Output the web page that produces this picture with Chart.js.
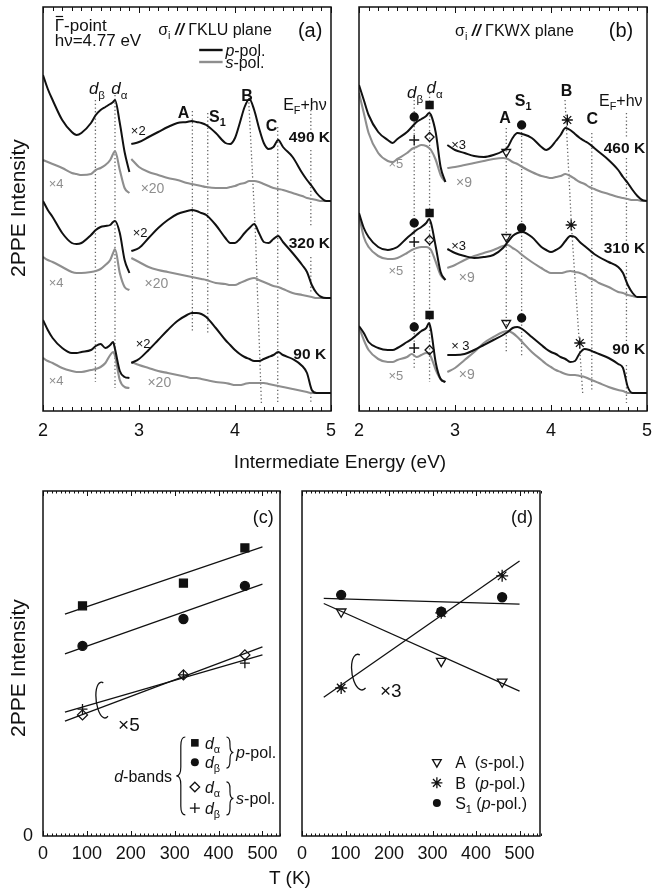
<!DOCTYPE html>
<html><head><meta charset="utf-8">
<script src="https://cdn.jsdelivr.net/npm/chart.js@4.4.1/dist/chart.umd.min.js"></script>
<style>
html,body{margin:0;padding:0;background:#fff;}
body{width:667px;height:892px;position:relative;overflow:hidden;font-family:'Liberation Sans',Arial,Helvetica,sans-serif;color:#111;}
canvas{position:absolute;}
.t{position:absolute;white-space:nowrap;transform:translate(-50%,-50%);}
.t.r{transform:translate(-50%,-50%) rotate(-90deg);}
</style></head><body>
<canvas id="ca" width="345" height="445" style="left:0;top:0;"></canvas>
<canvas id="cb" width="322" height="445" style="left:345px;top:0;"></canvas>
<canvas id="cc" width="290" height="406" style="left:0;top:470px;"></canvas>
<canvas id="cd" width="260" height="406" style="left:290px;top:470px;"></canvas>
<div class="t r" style="left:18px;top:208px;font-size:21px;">2PPE Intensity</div>
<div class="t" style="left:340px;top:462px;font-size:19px;">Intermediate Energy (eV)</div>
<div class="t r" style="left:18px;top:668px;font-size:21px;">2PPE Intensity</div>
<div class="t" style="left:290px;top:878px;font-size:19px;">T (K)</div>
<script>
// ---------- DATA ----------
// energy grids (eV)
const E1 = [2.0,2.05,2.1,2.2,2.3,2.35,2.4,2.5,2.55,2.6,2.65,2.7,2.73,2.75,2.8,2.85,2.9];
const E2 = [2.92,3.0,3.1,3.2,3.3,3.4,3.5,3.55,3.6,3.65,3.7,3.8,3.9,3.95,4.0,4.05,4.1,4.15,4.2,4.25,4.3,4.35,4.4,4.45,4.5,4.6,4.7,4.75,4.8,4.85,4.9,4.95,5.0];
// panel (a) GKLU plane : p = p-pol (black), s = s-pol (gray); 1 = d-band region, 2 = scaled region
const a490p1 = [336,322,311,291,279,276,278,288,296,301,304,307,309,311,288,259,239];
const a490s1 = [251,249,247,243,238,237,236,237,241,243,246,251,257,260,241,223,218];
const a320p1 = [210,201,194,178,168,167,168,176,181,184,185,186,189,190,178,151,138];
const a320s1 = [154,151,149,144,139,138,138,139,140,142,146,151,158,162,138,124,121];
const a90p1  = [91,81,73,63,58,58,59,61,65,67,63,66,69,62,40,34,33];
const a90s1  = [53,50,48,43,40,39,39,41,42,44,48,56,59,55,31,24,23];
const a490p2 = [267,269,274,279,284,288,289,290,289,288,286,278,268,267,273,288,304,312,301,283,268,262,264,271,264,254,238,231,225,218,213,210,210];
const a490s2 = [252,244,239,236,233,231,228,227,226,225,224,223,223,224,225,227,228,230,230,229,227,225,223,222,221,218,215,213,212,211,210,210,210];
const a320p2 = [160,163,173,183,191,197,200,201,200,198,196,186,173,168,168,172,178,183,187,178,169,168,172,175,169,158,146,139,126,118,114,113,113];
const a320s2 = [153,149,144,141,139,137,135,134,133,132,131,128,127,126,126,128,130,132,133,131,129,127,125,124,122,118,116,115,114,113,113,113,113];
const a90p2  = [48,52,61,71,81,90,96,98,98,97,94,83,71,66,61,57,54,52,50,50,52,54,56,59,56,52,45,38,21,18,18,18,18];
const a90s2  = [49,46,43,40,38,36,34,33,33,32,31,29,28,27,26,26,27,28,28,28,28,27,26,25,24,22,20,19,18,18,18,18,18];
// panel (b) GKWX plane
const b460p1 = [326,311,296,279,271,268,272,279,284,289,292,295,298,296,278,244,229];
const b460s1 = [318,298,278,258,250,249,252,258,262,264,266,265,263,261,251,236,229];
const b310p1 = [198,183,174,164,161,162,164,173,177,181,184,188,192,188,164,139,131];
const b310s1 = [196,174,164,155,152,152,153,158,161,163,164,164,163,161,149,136,131];
const b90p1  = [85,78,69,63,61,61,63,69,72,76,80,83,88,81,48,32,29];
const b90s1  = [84,71,61,52,49,49,51,54,57,54,56,58,57,54,41,32,29];
const b460p2 = [266,261,258,255,254,256,260,264,273,278,277,273,264,261,264,270,276,283,281,277,273,270,267,263,259,251,241,234,228,221,215,211,210];
const b460s2 = [243,244,246,248,250,252,253,252,249,247,244,239,235,234,233,234,235,237,235,232,229,227,224,222,220,217,214,213,212,211,211,210,210];
const b310p2 = [162,158,155,153,154,156,163,169,175,178,179,174,164,161,159,161,164,170,175,174,169,165,161,157,154,149,144,138,126,118,114,114,114];
const b310s2 = [143,146,151,155,158,161,165,166,163,160,156,149,143,140,138,138,138,139,140,139,138,136,133,131,128,124,119,118,116,115,114,114,114];
const b90p2  = [56,56,57,61,66,71,76,79,83,84,82,74,66,62,59,57,54,52,49,50,58,62,61,59,57,53,47,43,24,18,18,18,18];
const b90s2  = [39,43,51,59,68,74,79,80,78,74,69,59,51,47,44,41,39,37,36,36,35,34,32,30,28,24,21,20,18,18,18,18,18];
// panel (b) peak markers (460 K, 310 K, 90 K)
const bSqE = [2.735,2.735,2.735], bSqV = [306,198,96];   // d_alpha p-pol
const bDbE = [2.575,2.575,2.575], bDbV = [294,188,84];   // d_beta p-pol
const bPlE = [2.575,2.575,2.575], bPlV = [271,169,63];   // d_beta s-pol
const bDiE = [2.735,2.735,2.735], bDiV = [274,171,61];   // d_alpha s-pol
const bTrE = [3.534,3.534,3.534], bTrV = [259,174,88];   // A
const bS1E = [3.694,3.694,3.694], bS1V = [286,183,93];   // S1
const bStE = [4.17,4.21,4.30],    bStV = [291,186,68];   // B
// dotted guide lines
const aGuideE = [2.546,2.75,3.556,3.716,4.445], aGuideTop = [311,316,300,298,284], aGuideBot = [29,23,78,76,8];
const aGuideBE = [4.14,4.21,4.275], aGuideBV = [316,184,8];
const aEF = 4.79, aEFv = [301,274,null,261,184,null,154,118,null,18,8];
const bGuideE = [2.575,2.735,3.534,3.694,4.425], bGuideTop = [311,318,283,279,278], bGuideBot = [41,29,58,54,21];
const bGuideBE = [4.146,4.214,4.33], bGuideBV = [311,184,18];
const bEF = 4.786, bEFv = [298,273,null,253,168,null,149,66,null,46,8];
// panels (c),(d): temperatures and intensities
const temps = [90,320,460];
const cDaP = [66.7,73.3,83.5], cDbP = [55.1,62.9,72.5], cDaS = [35.1,46.7,52.5], cDbS = [36.8,46.7,50.1];
const fitT = [50,500];
const cFitDaP = [64.3,83.8], cFitDbP = [52.8,73.0], cFitDaS = [33.3,54.8], cFitDbS = [35.9,52.5];
const dA = [65.0,50.7,44.7], dB = [42.9,64.7,75.4], dS1 = [69.9,65.0,69.2];
const dFitA = [67.4,42.0], dFitB = [40.2,79.7], dFitS1 = [68.9,67.2];

// ---------- HELPERS ----------
const FAM = "'Liberation Sans', Arial, Helvetica, sans-serif";
const K = '#111', G = '#8e8e8e', DOT = '#666';
const pts = (X,Y) => Y.map((v,i)=>({x: Array.isArray(X)?X[i]:X, y: v}));
function curve(X,Y,c){return {data:pts(X,Y),borderColor:c,borderWidth:c===K?2.0:2.1,pointRadius:0,showLine:true,cubicInterpolationMode:'monotone',fill:false};}
function guide(X,Y){return {data:pts(X,Y),borderColor:DOT,borderWidth:1.3,borderDash:[1.3,2.4],pointRadius:0,showLine:true,tension:0,spanGaps:false};}
function marks(X,Y,st,r,fill){return {data:pts(X,Y),showLine:false,pointStyle:st,pointRadius:r,pointBorderWidth:1.3,pointBackgroundColor:fill?K:'rgba(255,255,255,0)',pointBorderColor:K,pointRotation:st==='triangle'?180:0};}
function fitLine(X,Y){return {data:pts(X,Y),borderColor:K,borderWidth:1.3,pointRadius:0,showLine:true,tension:0};}

function fontFor(f,size){return (f.includes('i')?'italic ':'')+(f.includes('b')?'bold ':'')+(f.includes('s')?size*0.68:size)+'px '+FAM;}
function drawRich(ctx,x,y,parts,size,align,color){
  if(typeof parts==='string') parts=[[parts,'']];
  let w=0;
  for(const [t,f=''] of parts){ctx.font=fontFor(f,size);w+=ctx.measureText(t).width;}
  let cx = align==='right'?x-w:align==='center'?x-w/2:x;
  const base=y+size*0.36;
  ctx.fillStyle=color;ctx.textBaseline='alphabetic';ctx.textAlign='left';
  for(const [t,f=''] of parts){
    ctx.font=fontFor(f,size);
    const tw=ctx.measureText(t).width;
    ctx.fillText(t,cx,f.includes('s')?base+size*0.28:base);
    if(f.includes('o')){ctx.save();ctx.strokeStyle=color;ctx.lineWidth=1.2;ctx.beginPath();ctx.moveTo(cx+1,base-size*0.86);ctx.lineTo(cx+tw-1,base-size*0.86);ctx.stroke();ctx.restore();}
    cx+=tw;
  }
}
function brace(ctx,x,y1,y2,d,w){
  const ym=(y1+y2)/2, xo=x-d*w/2, xt=x+d*w/2, q=Math.min(w,(y2-y1)/4);
  ctx.beginPath();
  ctx.moveTo(xo,y1);ctx.quadraticCurveTo(x,y1,x,y1+q);ctx.lineTo(x,ym-q);ctx.quadraticCurveTo(x,ym,xt,ym);
  ctx.quadraticCurveTo(x,ym,x,ym+q);ctx.lineTo(x,y2-q);ctx.quadraticCurveTo(x,y2,xo,y2);ctx.stroke();
}
function mark(ctx,st,x,y,r){
  ctx.save();ctx.fillStyle=K;ctx.strokeStyle=K;ctx.lineWidth=1.3;ctx.beginPath();
  if(st==='sq'){ctx.fillRect(x-r,y-r,2*r,2*r);}
  else if(st==='ci'){ctx.arc(x,y,r,0,2*Math.PI);ctx.fill();}
  else if(st==='di'){ctx.moveTo(x,y-r);ctx.lineTo(x+r,y);ctx.lineTo(x,y+r);ctx.lineTo(x-r,y);ctx.closePath();ctx.stroke();}
  else if(st==='pl'){ctx.moveTo(x-r,y);ctx.lineTo(x+r,y);ctx.moveTo(x,y-r);ctx.lineTo(x,y+r);ctx.stroke();}
  else if(st==='tr'){ctx.moveTo(x-r*0.87,y-r*0.5);ctx.lineTo(x+r*0.87,y-r*0.5);ctx.lineTo(x,y+r);ctx.closePath();ctx.stroke();}
  else if(st==='st'){for(let k=0;k<4;k++){const an=k*Math.PI/4;ctx.moveTo(x-r*Math.cos(an),y-r*Math.sin(an));ctx.lineTo(x+r*Math.cos(an),y+r*Math.sin(an));}ctx.stroke();}
  ctx.restore();
}
const t=(x,y,p,s,a,c)=>({k:'t',x,y,p,s,a:a||'left',c:c||K});

// ---------- ANNOTATIONS ----------
const notesA = [
  t(2.122,386,[['Γ','o'],['-point','']],17), t(2.122,371,'hν=4.77 eV',17),
  t(3.20,382,[['σ',''],['i','s'],[' ',''],['//','bi'],[' ΓKLU plane','']],16),
  t(4.91,381,'(a)',20,'right'),
  {k:'ln',x1:3.627,x2:3.871,y:361,c:K,w:2.4},{k:'ln',x1:3.627,x2:3.871,y:349,c:G,w:2.4},
  t(3.90,361,[['p','i'],['-pol.','']],16), t(3.90,349,[['s','i'],['-pol.','']],16),
  t(2.478,323,[['d','i'],['β','s']],17), t(2.712,323,[['d','i'],['α','s']],17),
  t(3.464,299,[['A','b']],16,'center'), t(3.729,295,[['S','b'],['1','bs']],16),
  t(4.125,316,[['B','b']],16,'center'), t(4.38,286,[['C','b']],16,'center'),
  t(4.502,307,[['E',''],['F','s'],['+hν','']],16),
  t(4.99,275,[['490 K','b']],15.5,'right'), t(4.99,169,[['320 K','b']],15.5,'right'), t(4.949,58,[['90 K','b']],15.5,'right'),
  t(2.915,281,'×2',13), t(2.935,179,'×2',13), t(2.966,68,'×2',13),
  t(2.06,228,'×4',13,'left',G), t(2.06,129,'×4',13,'left',G), t(2.06,31,'×4',13,'left',G),
  t(3.017,223,'×20',14,'left',G), t(3.058,128,'×20',14,'left',G), t(3.088,29,'×20',14,'left',G)
];
const notesB = [
  t(3.00,381,[['σ',''],['i','s'],[' ',''],['//','bi'],[' ΓKWX plane','']],16),
  t(4.857,381,'(b)',20,'right'),
  t(2.5,319,[['d','i'],['β','s']],17), t(2.704,324,[['d','i'],['α','s']],17),
  t(3.52,294,[['A','b']],16,'center'), t(3.622,311,[['S','b'],['1','bs']],16),
  t(4.163,321,[['B','b']],16,'center'), t(4.43,293,[['C','b']],16,'center'),
  t(4.5,311,[['E',''],['F','s'],['+hν','']],16),
  t(4.98,264,[['460 K','b']],15.5,'right'), t(4.98,164,[['310 K','b']],15.5,'right'), t(4.98,63,[['90 K','b']],15.5,'right'),
  t(2.96,267,'×3',13), t(2.96,166,'×3',13), t(2.96,66,'× 3',13),
  t(2.306,248,'×5',13,'left',G), t(2.306,141,'×5',13,'left',G), t(2.306,36,'×5',13,'left',G),
  t(3.01,229,'×9',14,'left',G), t(3.04,134,'×9',14,'left',G), t(3.04,37,'×9',14,'left',G)
];
const notesC = [
  t(526,92.5,'(c)',18,'right'),
  {k:'curl',x:137,y:39.4,rx:7,ry:18,rot:-0.12},
  t(171,32.5,'×5',19),
  t(294,17.4,[['d','i'],['-bands','']],16,'right'),
  {k:'br',x:314,y1:28.7,y2:6.1,d:-1,w:9},
  {k:'pt',st:'sq',x:346,y:27,r:3.8},{k:'pt',st:'ci',x:346,y:21.4,r:4},
  {k:'pt',st:'di',x:346,y:14.2,r:4.8},{k:'pt',st:'pl',x:346,y:8.1,r:5},
  t(369,27,[['d','i'],['α','s']],16), t(369,21.4,[['d','i'],['β','s']],16),
  t(369,14.2,[['d','i'],['α','s']],16), t(369,8.1,[['d','i'],['β','s']],16),
  {k:'br',x:426,y1:28.7,y2:19.7,d:1,w:7},{k:'br',x:426,y1:15.7,y2:6.1,d:1,w:7},
  t(440,24.3,[['p','i'],['-pol.','']],16), t(440,11,[['s','i'],['-pol.','']],16)
];
const notesD = [
  t(531,92.5,'(d)',18,'right'),
  {k:'curl',x:133,y:47.5,rx:8,ry:18,rot:-0.15},
  t(179,42.3,'×3',19),
  {k:'pt',st:'tr',x:310,y:21.4,r:5},{k:'pt',st:'st',x:310,y:15.4,r:5.5},{k:'pt',st:'ci',x:310,y:9.6,r:4},
  t(352,21.4,[['A  (',''],['s','i'],['-pol.)','']],16),
  t(352,15.4,[['B  (',''],['p','i'],['-pol.)','']],16),
  t(352,9.6,[['S',''],['1','s'],[' (',''],['p','i'],['-pol.)','']],16)
];
const DECO = {
  ca:{minor:0.1,major:1,minLen:4,majLen:6,notes:notesA},
  cb:{minor:0.1,major:1,minLen:4,majLen:6,notes:notesB},
  cc:{minor:10,major:100,minLen:2.5,majLen:5,notes:notesC},
  cd:{minor:10,major:100,minLen:2.5,majLen:5,notes:notesD}
};
const deco = {
  id:'deco',
  afterDatasetsDraw(chart){
    const cfg=DECO[chart.canvas.id]; const ctx=chart.ctx, a=chart.chartArea, xs=chart.scales.x, ys=chart.scales.y;
    const X=v=>xs.getPixelForValue(v), Y=v=>ys.getPixelForValue(v);
    ctx.save();
    ctx.strokeStyle=K; ctx.lineWidth=1; ctx.beginPath();
    const n=Math.round((xs.max-xs.min)/cfg.minor);
    for(let i=0;i<=n;i++){
      const v=xs.min+i*cfg.minor, q=v/cfg.major, maj=Math.abs(q-Math.round(q))<1e-6, L=maj?cfg.majLen:cfg.minLen;
      const px=Math.round(X(v))+0.5;
      ctx.moveTo(px,a.bottom);ctx.lineTo(px,a.bottom-L);ctx.moveTo(px,a.top);ctx.lineTo(px,a.top+L);
    }
    ctx.stroke();
    ctx.lineWidth=1.5; ctx.strokeRect(a.left,a.top,a.right-a.left,a.bottom-a.top);
    for(const it of cfg.notes){
      if(it.k==='t') drawRich(ctx,X(it.x),Y(it.y),it.p,it.s,it.a,it.c);
      else if(it.k==='ln'){ctx.strokeStyle=it.c;ctx.lineWidth=it.w;ctx.beginPath();ctx.moveTo(X(it.x1),Y(it.y));ctx.lineTo(X(it.x2),Y(it.y));ctx.stroke();}
      else if(it.k==='br'){ctx.strokeStyle=K;ctx.lineWidth=1.2;brace(ctx,X(it.x),Y(it.y1),Y(it.y2),it.d,it.w);}
      else if(it.k==='curl'){ctx.strokeStyle=K;ctx.lineWidth=1.3;ctx.beginPath();ctx.ellipse(X(it.x),Y(it.y),it.rx,it.ry,it.rot,-1.25,1.15,true);ctx.stroke();}
      else if(it.k==='pt') mark(ctx,it.st,X(it.x),Y(it.y),it.r);
    }
    ctx.restore();
  }
};

function makeChart(id,datasets,xopt,yopt,pad){
  return new Chart(document.getElementById(id),{
    type:'scatter',
    data:{datasets},
    options:{
      responsive:false,maintainAspectRatio:false,animation:false,
      layout:{padding:pad},
      plugins:{legend:{display:false},tooltip:{enabled:false}},
      scales:{
        x:Object.assign({type:'linear',grid:{display:false,drawTicks:false},border:{display:false}},xopt),
        y:Object.assign({type:'linear',grid:{display:false,drawTicks:false},border:{display:false}},yopt)
      }
    },
    plugins:[deco]
  });
}

// ---------- PANEL (a) ----------
const dsA = [
  curve(E1,a490p1,K),curve(E2,a490p2,K),curve(E1,a320p1,K),curve(E2,a320p2,K),curve(E1,a90p1,K),curve(E2,a90p2,K),
  curve(E1,a490s1,G),curve(E2,a490s2,G),curve(E1,a320s1,G),curve(E2,a320s2,G),curve(E1,a90s1,G),curve(E2,a90s2,G),
  ...aGuideE.map((e,i)=>guide(e,[aGuideTop[i],aGuideBot[i]])),
  guide(aGuideBE,aGuideBV), guide(aEF,aEFv)
];
const eTicks = {stepSize:1,padding:9,font:{size:18,family:FAM},color:K,maxRotation:0,autoSkip:false};
makeChart('ca',dsA,
  {min:2,max:5,ticks:eTicks,afterFit:s=>{s.height=34;}},
  {min:0,max:404,ticks:{display:false},afterFit:s=>{s.width=43;}},
  {top:7,right:7,left:0,bottom:0});

// ---------- PANEL (b) ----------
const dsB = [
  marks(bSqE,bSqV,'rect',5,true),marks(bDbE,bDbV,'circle',4,true),marks(bPlE,bPlV,'cross',5,false),
  marks(bDiE,bDiV,'rectRot',4.5,false),marks(bTrE,bTrV,'triangle',5,false),marks(bS1E,bS1V,'circle',4,true),
  marks(bStE,bStV,'star',5.5,false),
  curve(E1,b460p1,K),curve(E2,b460p2,K),curve(E1,b310p1,K),curve(E2,b310p2,K),curve(E1,b90p1,K),curve(E2,b90p2,K),
  curve(E1,b460s1,G),curve(E2,b460s2,G),curve(E1,b310s1,G),curve(E2,b310s2,G),curve(E1,b90s1,G),curve(E2,b90s2,G),
  ...bGuideE.map((e,i)=>guide(e,[bGuideTop[i],bGuideBot[i]])),
  guide(bGuideBE,bGuideBV), guide(bEF,bEFv)
];
makeChart('cb',dsB,
  {min:2,max:5,ticks:eTicks,afterFit:s=>{s.height=34;}},
  {min:0,max:404,ticks:{display:false},afterFit:s=>{s.width=8;}},
  {top:7,right:20,left:0,bottom:0});

// ---------- PANEL (c) ----------
const tTicks = {stepSize:100,includeBounds:false,padding:7,font:{size:18,family:FAM},color:K,maxRotation:0,autoSkip:false};
const dsC = [
  marks(temps,cDaP,'rect',5.6,true),marks(temps,cDbP,'circle',4.5,true),
  marks(temps,cDaS,'rectRot',5,false),marks(temps,cDbS,'cross',5,false),
  fitLine(fitT,cFitDaP),fitLine(fitT,cFitDbP),fitLine(fitT,cFitDaS),fitLine(fitT,cFitDbS)
];
makeChart('cc',dsC,
  {min:0,max:540,ticks:tTicks,afterFit:s=>{s.height=40;}},
  {min:0,max:100,ticks:{stepSize:100,includeBounds:false,padding:10,font:{size:18,family:FAM},color:K,callback:v=>v===0?'0':''},afterFit:s=>{s.width=43;}},
  {top:21,right:10,left:0,bottom:0});

// ---------- PANEL (d) ----------
const dsD = [
  marks(temps,dS1,'circle',4.5,true),marks(temps,dB,'star',6,false),marks(temps,dA,'triangle',5.5,false),
  fitLine(fitT,dFitS1),fitLine(fitT,dFitA),fitLine(fitT,dFitB)
];
makeChart('cd',dsD,
  {min:0,max:547,ticks:tTicks,afterFit:s=>{s.height=40;}},
  {min:0,max:100,ticks:{display:false},afterFit:s=>{s.width=12;}},
  {top:21,right:10,left:0,bottom:0});
</script></body></html>
